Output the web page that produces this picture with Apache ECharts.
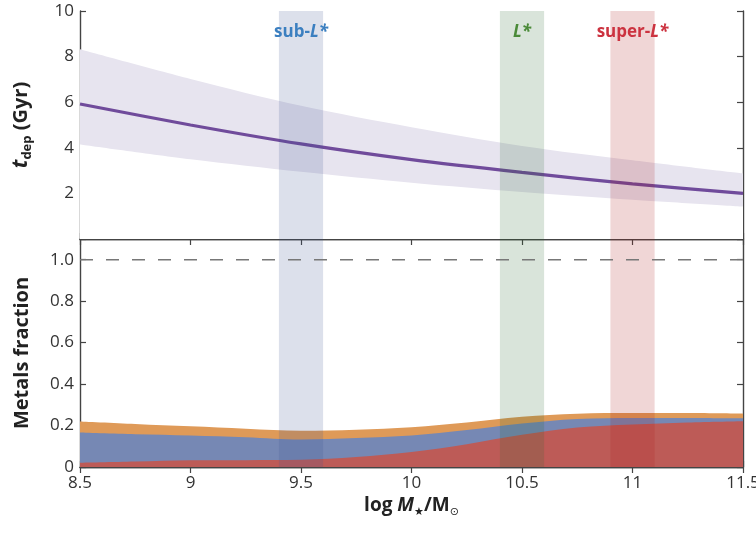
<!DOCTYPE html>
<html>
<head>
<meta charset="utf-8">
<script src="https://cdn.jsdelivr.net/npm/echarts@6/dist/echarts.min.js"></script>
<style>
html, body { margin: 0; padding: 0; background: #fff; }
#chart { width: 756px; height: 534px; }
</style>
</head>
<body>
<div id="chart"></div>
<script>
// Depletion time vs stellar mass (upper panel)
const massTop = [8.5, 9, 9.5, 10, 10.5, 11, 11.5];
const tdepMedian = [5.92, 5.0, 4.17, 3.48, 2.92, 2.42, 2.0];
const tdepUpper = [8.32, 7.02, 5.84, 4.9, 4.08, 3.45, 2.87];
const tdepLower = [4.15, 3.5, 2.95, 2.47, 2.06, 1.72, 1.42];

// Metals budget fractions, stacked bottom-up (lower panel)
const massBottom = [8.5, 8.75, 9, 9.25, 9.5, 9.75, 10, 10.25, 10.5, 10.75, 11, 11.25, 11.5];
const metalsRed = [0.02, 0.026, 0.032, 0.033, 0.035, 0.048, 0.072, 0.11, 0.155, 0.19, 0.205, 0.215, 0.221];
const metalsBlue = [0.146, 0.132, 0.12, 0.111, 0.098, 0.092, 0.08, 0.068, 0.055, 0.042, 0.032, 0.022, 0.014];
const metalsOrange = [0.054, 0.05, 0.044, 0.041, 0.042, 0.04, 0.04, 0.037, 0.032, 0.025, 0.023, 0.023, 0.022];
const unityLine = [1.0, 1.0];

// Galaxy mass classes
const bandLow = [9.4, 10.4, 10.9];
const bandHigh = [9.6, 10.6, 11.1];
const bandPrefix = ['sub-', '', 'super-'];

// Tick labels
const xTickLabels = ['8.5', '9', '9.5', '10', '10.5', '11', '11.5'];
const yTopTickLabels = ['', '2', '4', '6', '8', '10'];
const yBottomTickLabels = ['0', '0.2', '0.4', '0.6', '0.8', '1.0'];

const FONT = "'Open Sans', 'Noto Sans', sans-serif";
const bandFill = ['rgba(61,83,144,0.18)', 'rgba(44,105,50,0.18)', 'rgba(172,27,27,0.18)'];
const bandText = ['#3b7fc0', '#4a8a38', '#cc3340'];

const X_MIN = 8.5, X_MAX = 11.5;

function pairs(xs, ys) { return xs.map((x, i) => [x, ys[i]]); }

// running totals of the stacked components
const cumRed = metalsRed.slice();
const cumBlue = metalsBlue.map((b, i) => cumRed[i] + b);
const cumOrange = metalsOrange.map((o, i) => cumBlue[i] + o);

const axisLine = { show: true, lineStyle: { color: '#444', width: 1.4 } };
const tickIn = { show: true, inside: true, length: 6, lineStyle: { color: '#444', width: 1.2 } };

function xAxis(grid, position, withLabels) {
  return {
    type: 'value', gridIndex: grid, position: position,
    min: X_MIN, max: X_MAX, interval: 0.5,
    axisLine: axisLine, axisTick: tickIn, splitLine: { show: false },
    axisLabel: withLabels ? {
      show: true, margin: 8, color: '#333', fontSize: 17, fontFamily: FONT,
      formatter: v => xTickLabels[Math.round((v - X_MIN) / 0.5)] ?? ''
    } : { show: false }
  };
}

function bandRender(withLabel) {
  return function (params, api) {
    const i = api.value(2);
    const cs = params.coordSys;
    const x0 = api.coord([api.value(0), 0])[0];
    const x1 = api.coord([api.value(1), 0])[0];
    const children = [{
      type: 'rect',
      shape: { x: x0, y: cs.y, width: x1 - x0, height: cs.height },
      style: { fill: bandFill[i] }
    }];
    if (withLabel) {
      const tokenStyle = { fill: bandText[i], fontWeight: 'bold', fontSize: 17, fontFamily: FONT };
      children.push({
        type: 'text',
        x: (x0 + x1) / 2, y: cs.y + 21,
        style: {
          text: '{p|' + bandPrefix[i] + '}{l|L*}',
          rich: { p: tokenStyle, l: Object.assign({}, tokenStyle, { fontStyle: 'italic' }) },
          align: 'center', verticalAlign: 'middle'
        }
      });
    }
    return { type: 'group', children: children };
  };
}

const bandData = bandLow.map((lo, i) => [lo, bandHigh[i], i]);

function filledLine(xIdx, yIdx, xs, ys, color, z, smooth) {
  return {
    type: 'line', xAxisIndex: xIdx, yAxisIndex: yIdx, smooth: smooth,
    showSymbol: false, silent: true, z: z,
    lineStyle: { width: 0, opacity: 0 },
    areaStyle: { color: color, opacity: 1, origin: 'start' },
    data: pairs(xs, ys)
  };
}

const chart = echarts.init(document.getElementById('chart'), null, { renderer: 'canvas' });

chart.setOption({
  animation: false,
  backgroundColor: '#fff',
  grid: [
    { left: 80, top: 11, width: 663, height: 228, show: false, outerBoundsMode: 'none', containLabel: false },
    { left: 80, top: 239, width: 663, height: 228, show: false, outerBoundsMode: 'none', containLabel: false }
  ],
  xAxis: [
    xAxis(0, 'bottom', false),
    xAxis(0, 'top', false),
    Object.assign(xAxis(1, 'bottom', true), {
      name: '{b|log }{i|M}{s|\u2605}{b|/M}{s|\u2299}',
      nameLocation: 'middle', nameGap: 27,
      nameTextStyle: {
        rich: {
          b: { fontSize: 19, fontWeight: 'bold', color: '#222', fontFamily: FONT, lineHeight: 24 },
          i: { fontSize: 19, fontWeight: 'bold', fontStyle: 'italic', color: '#222', fontFamily: FONT, lineHeight: 24 },
          s: { fontSize: 11, color: '#222', fontFamily: "'DejaVu Sans', sans-serif", lineHeight: 24, verticalAlign: 'bottom', padding: [9, 0, 0, 0] }
        }
      }
    }),
    xAxis(1, 'top', false)
  ],
  yAxis: [
    {
      type: 'value', gridIndex: 0, position: 'left', min: 0, max: 10, interval: 2,
      axisLine: axisLine, axisTick: tickIn, splitLine: { show: false },
      axisLabel: { margin: 6, color: '#333', fontSize: 17, fontFamily: FONT,
        formatter: v => yTopTickLabels[Math.round(v / 2)] ?? '' },
      name: '{t|t}{s|dep}{n| (Gyr)}',
      nameLocation: 'middle', nameRotate: 90, nameGap: 46,
      nameTextStyle: {
        rich: {
          t: { fontSize: 21, fontWeight: 'bold', fontStyle: 'italic', color: '#222', fontFamily: FONT, lineHeight: 26 },
          s: { fontSize: 13, fontWeight: 'bold', color: '#222', fontFamily: FONT, lineHeight: 26, verticalAlign: 'bottom', padding: [8, 0, 0, 0] },
          n: { fontSize: 20, fontWeight: 'bold', color: '#222', fontFamily: FONT, lineHeight: 26 }
        }
      }
    },
    {
      type: 'value', gridIndex: 0, position: 'right', min: 0, max: 10, interval: 2,
      axisLine: axisLine, axisTick: tickIn, splitLine: { show: false }, axisLabel: { show: false }
    },
    {
      type: 'value', gridIndex: 1, position: 'left', min: 0, max: 1.1, interval: 0.2,
      axisLine: axisLine, axisTick: tickIn, splitLine: { show: false },
      axisLabel: { margin: 6, color: '#333', fontSize: 17, fontFamily: FONT, showMaxLabel: false,
        formatter: v => (v > 1.05 ? '' : (yBottomTickLabels[Math.round(v / 0.2)] ?? '')) },
      name: 'Metals fraction',
      nameLocation: 'middle', nameRotate: 90, nameGap: 48,
      nameTextStyle: { fontSize: 20, fontWeight: 'bold', color: '#222', fontFamily: FONT }
    },
    {
      type: 'value', gridIndex: 1, position: 'right', min: 0, max: 1.1, interval: 0.2,
      axisLine: axisLine, axisTick: tickIn, splitLine: { show: false }, axisLabel: { show: false }
    }
  ],
  series: [
    // uncertainty envelope: upper bound filled, lower bound masked with the background
    filledLine(0, 0, massTop, tdepUpper, '#e7e4ef', 1, 0.3),
    filledLine(0, 0, massTop, tdepLower, '#ffffff', 1, 0.3),
    {
      type: 'line', xAxisIndex: 0, yAxisIndex: 0, smooth: 0.3,
      showSymbol: false, silent: true, z: 2,
      lineStyle: { color: '#704b9b', width: 3.2 },
      data: pairs(massTop, tdepMedian)
    },
    {
      type: 'custom', xAxisIndex: 0, yAxisIndex: 0, z: 3, silent: true, clip: false,
      renderItem: bandRender(true), encode: { x: [0, 1] }, data: bandData
    },
    // stacked metals budget, painted back to front
    filledLine(2, 2, massBottom, cumOrange, '#df9a58', 1, 0.35),
    filledLine(2, 2, massBottom, cumBlue, '#7688b4', 1, 0.35),
    filledLine(2, 2, massBottom, cumRed, '#bd5b57', 1, 0.35),
    {
      type: 'custom', xAxisIndex: 2, yAxisIndex: 2, z: 3, silent: true, clip: true,
      renderItem: bandRender(false), encode: { x: [0, 1] }, data: bandData
    },
    {
      type: 'line', xAxisIndex: 2, yAxisIndex: 2, showSymbol: false, silent: true, z: 4,
      lineStyle: { color: '#777', width: 1.6, type: [13, 13] },
      data: pairs([X_MIN, X_MAX], unityLine)
    }
  ]
});
</script>
</body>
</html>
